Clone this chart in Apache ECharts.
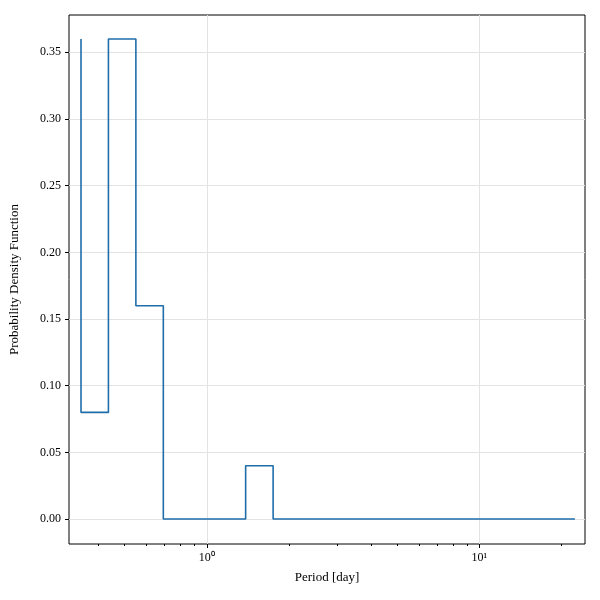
<!DOCTYPE html>
<html>
<head>
<meta charset="UTF-8">
<script src="https://cdn.jsdelivr.net/npm/echarts@6/dist/echarts.min.js"></script>
</head>
<body style="margin:0">
<div id="main" style="width:600px;height:600px;"></div>
<script>
// bin edges (days) where the step value changes, and the value after each edge
var edges = [0.3456, 0.4357, 0.5494, 0.6928, 1.389, 1.752, 22.44];
var values = [0.08, 0.36, 0.16, 0, 0.04, 0];
var startValue = 0.36;
var yTicks = [0, 0.05, 0.1, 0.15, 0.2, 0.25, 0.3, 0.35];

var pts = [[Math.log10(edges[0]), startValue]];
for (var i = 0; i < values.length; i++) {
    pts.push([Math.log10(edges[i]), values[i]]);
    pts.push([Math.log10(edges[i + 1]), values[i]]);
}
var minors = [];
for (var n = -1; n <= 1; n++) {
    for (var k = 2; k <= 9; k++) {
        var v = Math.log10(k * Math.pow(10, n));
        if (v > -0.5055 && v < 1.388) minors.push(v);
    }
}
var font = 'Liberation Serif';
var myCharts = echarts.init(document.getElementById('main'));
var option = {
    animation: false,
    grid: {left: 68, right: 15, top: 15, bottom: 56, show: true, borderColor: '#000', borderWidth: 1},
    xAxis: [{
        type: 'value', min: -0.5055, max: 1.388,
        name: 'Period [day]', nameLocation: 'middle', nameGap: 27,
        nameTextStyle: {fontFamily: font, fontSize: 13, color: '#000'},
        axisLine: {show: false, onZero: false},
        axisTick: {customValues: [0, 1], length: 4, inside: false, lineStyle: {color: '#000'}},
        axisLabel: {customValues: [0, 1], fontFamily: font, fontSize: 12, color: '#000',
            formatter: function (v) { return v === 0 ? '10⁰' : '10¹'; }},
        splitLine: {show: true, lineStyle: {color: '#e3e3e3'}}
    }, {
        type: 'value', min: -0.5055, max: 1.388, position: 'bottom',
        axisLine: {show: false, onZero: false},
        axisTick: {customValues: minors, length: 2, lineStyle: {color: '#000'}},
        axisLabel: {show: false}, splitLine: {show: false}
    }],
    yAxis: {
        type: 'value', min: -0.0187, max: 0.378, position: 'left',
        name: 'Probability Density Function', nameLocation: 'middle', nameGap: 48,
        nameTextStyle: {fontFamily: font, fontSize: 13, color: '#000'},
        axisLine: {show: false, onZero: false},
        axisTick: {customValues: yTicks, length: 4, lineStyle: {color: '#000'}},
        axisLabel: {customValues: yTicks, fontFamily: font, fontSize: 12, color: '#000',
            formatter: function (v) { return v.toFixed(2); }},
        splitLine: {show: true, lineStyle: {color: '#e3e3e3'}}
    },
    series: [{
        type: 'line', data: pts, showSymbol: false,
        lineStyle: {color: '#1f6eaa', width: 1.6}
    }]
};
myCharts.setOption(option);
</script>
</body>
</html>
